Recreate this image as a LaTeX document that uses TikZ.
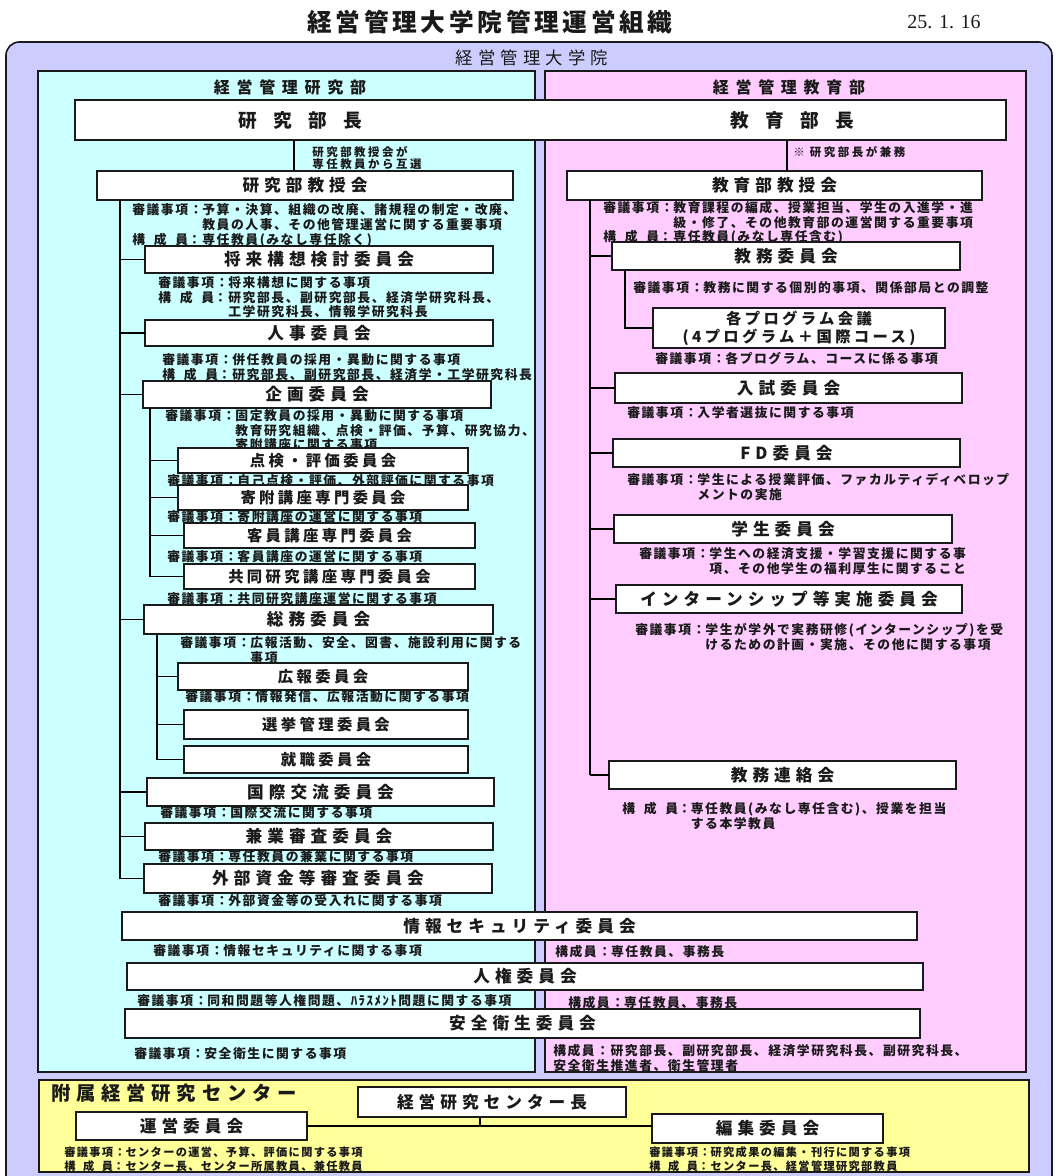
\documentclass[tikz,border=0pt]{standalone}
\usepackage{fontspec}
\setmainfont{Noto Sans CJK JP}
\newfontfamily\datefamily{Liberation Serif}
\definecolor{lav}{HTML}{CCCCFF}
\definecolor{cyanbg}{HTML}{CCFFFF}
\definecolor{pinkbg}{HTML}{FFCCFF}
\definecolor{yelbg}{HTML}{FFFF99}
\definecolor{ink}{HTML}{1A1A1A}

\newcommand\titlefont{\bfseries\fontsize{18.5pt}{21pt}\selectfont\addfontfeature{LetterSpace=15}}
\newcommand\gradfont{\fontsize{13pt}{15pt}\selectfont\addfontfeature{LetterSpace=30}}
\newcommand\headfont{\bfseries\fontsize{12pt}{14pt}\selectfont\addfontfeature{LetterSpace=42}}
\newcommand\bigfont{\bfseries\fontsize{14pt}{16pt}\selectfont\addfontfeature{LetterSpace=88}}
\newcommand\bxfont{\bfseries\fontsize{12.5pt}{14pt}\selectfont\addfontfeature{LetterSpace=30}}
\newcommand\sbxfont{\bfseries\fontsize{11.5pt}{13.5pt}\selectfont\addfontfeature{LetterSpace=22}}
\newcommand\descfont{\bfseries\fontsize{9.6pt}{9pt}\selectfont\addfontfeature{LetterSpace=12}}
\newcommand\notefont{\bfseries\fontsize{8.6pt}{9pt}\selectfont\addfontfeature{LetterSpace=22}}
\newcommand\ydescfont{\bfseries\fontsize{8.4pt}{9.75pt}\selectfont\addfontfeature{LetterSpace=12}}
\newcommand\centfont{\bfseries\fontsize{14.5pt}{17pt}\selectfont\addfontfeature{LetterSpace=30}}

\newlength\shw
\newcommand\kosei{\settowidth\shw{審議事項}\makebox[\shw][s]{構\hfill 成\hfill 員}}
% box node: style, name, x1, y1, x2, y2, text
\newcommand\bxn[7]{\node[#1, minimum width={(#5-#3)*0.75pt}, minimum height={(#6-#4)*0.75pt}] (#2) at ({(#3+#5)/2},{(#4+#6)/2}) {#7};}
% description: style, name, x, y(center of first line), rows
\newcommand\dsc[5]{\node[#1] (#2) at (#3,{#4+4.6}) {\begin{tabular}[t]{@{}l@{}l@{}}#5\end{tabular}};}

\begin{document}
\begin{tikzpicture}[x=0.75pt,y=-0.75pt,
  bx/.style={draw=ink, line width=1pt, fill=white, inner sep=0pt, outer sep=0pt, font=\bxfont, text=ink},
  sbx/.style={bx, font=\sbxfont},
  desc/.style={inner sep=0pt, anchor=base west, font=\descfont, text=ink},
  ydesc/.style={desc, font=\ydescfont},
  conn/.style={draw=black, line width=1.1pt},
  panel/.style={draw=ink, line width=1pt}]
\useasboundingbox (0,0) rectangle (1055,1176);
\begin{scope}
  \clip (0,0) rectangle (1055,1176);
  \draw[fill=lav, draw=ink, line width=1.2pt, rounded corners=10pt] (6,42) rectangle (1052,1200);
\end{scope}
\node[font=\titlefont, text=ink] (title) at (490,22) {経営管理大学院管理運営組織};
\node[font=\datefamily\fontsize{15pt}{17pt}\selectfont, text=ink] (date) at (944,22) {25. 1. 16};
\node[font=\gradfont, text=ink] (grad) at (532,58) {経営管理大学院};

\draw[panel, fill=cyanbg] (38,71) rectangle (535,1072);
\draw[panel, fill=pinkbg] (545,71) rectangle (1026,1072);
\draw[panel, fill=yelbg] (39,1080) rectangle (1029,1172);

\node[font=\headfont, text=ink] (hk) at (290,87) {経営管理研究部};
\node[font=\headfont, text=ink] (he) at (789,87) {経営管理教育部};

\bxn{bx}{bucho}{75}{100}{1006}{140}{}
\node[font=\bigfont, text=ink] (kbucho) at (300,120) {研究部長};
\node[font=\bigfont, text=ink] (ebucho) at (792,120) {教育部長};

% ---------- left column ----------
\node[font=\notefont, text=ink, align=left, anchor=north west, inner sep=0pt] (knote) at (312,146) {研究部教授会が\\専任教員から互選};
\bxn{bx}{kkj}{97}{171}{513}{200}{研究部教授会}
\dsc{desc}{dkkj}{132}{210}{審議事項：&予算・決算、組織の改廃、諸規程の制定・改廃、\\&教員の人事、その他管理運営に関する重要事項\\\kosei：&専任教員(みなし専任除く)}
\bxn{bx}{shorai}{145}{246}{493}{273}{将来構想検討委員会}
\dsc{desc}{dshorai}{158}{283}{審議事項：&将来構想に関する事項\\\kosei：&研究部長、副研究部長、経済学研究科長、\\&工学研究科長、情報学研究科長}
\bxn{bx}{jinji}{145}{320}{493}{346}{人事委員会}
\dsc{desc}{djinji}{162}{360}{審議事項：&併任教員の採用・異動に関する事項\\\kosei：&研究部長、副研究部長、経済学・工学研究科長}
\bxn{bx}{kikaku}{143}{381}{491}{408}{企画委員会}
\dsc{desc}{dkikaku}{165}{416}{審議事項：&固定教員の採用・異動に関する事項\\&教育研究組織、点検・評価、予算、研究協力、\\&寄附講座に関する事項}
\bxn{sbx}{tenken}{178}{448}{468}{473}{点検・評価委員会}
\dsc{desc}{dtenken}{167}{481}{審議事項：&自己点検・評価、外部評価に関する事項}
\bxn{sbx}{kifu}{178}{485}{468}{510}{寄附講座専門委員会}
\dsc{desc}{dkifu}{167}{517}{審議事項：&寄附講座の運営に関する事項}
\bxn{sbx}{kyakuin}{184}{523}{475}{548}{客員講座専門委員会}
\dsc{desc}{dkyakuin}{167}{557}{審議事項：&客員講座の運営に関する事項}
\bxn{sbx}{kyodo}{184}{564}{475}{589}{共同研究講座専門委員会}
\dsc{desc}{dkyodo}{167}{599}{審議事項：&共同研究講座運営に関する事項}
\bxn{bx}{somu}{144}{605}{493}{634}{総務委員会}
\dsc{desc}{dsomu}{180}{643}{審議事項：&広報活動、安全、図書、施設利用に関する\\&事項}
\bxn{sbx}{koho}{178}{663}{468}{690}{広報委員会}
\dsc{desc}{dkoho}{185}{697}{審議事項：&情報発信、広報活動に関する事項}
\bxn{sbx}{senkyo}{184}{710}{468}{739}{選挙管理委員会}
\bxn{sbx}{shushoku}{184}{746}{468}{773}{就職委員会}
\bxn{bx}{kokusai}{147}{778}{494}{806}{国際交流委員会}
\dsc{desc}{dkokusai}{160}{813}{審議事項：&国際交流に関する事項}
\bxn{bx}{kengyo}{145}{823}{493}{850}{兼業審査委員会}
\dsc{desc}{dkengyo}{158}{857}{審議事項：&専任教員の兼業に関する事項}
\bxn{bx}{gaibu}{144}{864}{492}{893}{外部資金等審査委員会}
\dsc{desc}{dgaibu}{158}{901}{審議事項：&外部資金等の受入れに関する事項}

% ---------- right column ----------
\node[font=\notefont, text=ink, anchor=west, inner sep=0pt] (enote) at (793,152) {※ 研究部長が兼務};
\bxn{bx}{kyj}{567}{171}{982}{200}{教育部教授会}
\dsc{desc}{dkyj}{603}{208}{審議事項：&教育課程の編成、授業担当、学生の入進学・進\\&級・修了、その他教育部の運営関する重要事項\\\kosei：&専任教員(みなし専任含む)}
\bxn{bx}{kyomu}{612}{242}{960}{270}{教務委員会}
\dsc{desc}{dkyomu}{633}{288}{審議事項：&教務に関する個別的事項、関係部局との調整}
\bxn{sbx, align=center}{prog}{653}{308}{945}{348}{各プログラム会議\\(4プログラム＋国際コース)}
\dsc{desc}{dprog}{655}{359}{審議事項：&各プログラム、コースに係る事項}
\bxn{bx}{nyushi}{615}{373}{962}{403}{入試委員会}
\dsc{desc}{dnyushi}{627}{413}{審議事項：&入学者選抜に関する事項}
\bxn{bx}{fd}{613}{439}{960}{467}{FD委員会}
\dsc{desc}{dfd}{627}{480}{審議事項：&学生による授業評価、ファカルティディベロップ\\&メントの実施}
\bxn{bx, line width=2.2pt}{gakusei}{614}{515}{952}{543}{学生委員会}
\dsc{desc}{dgakusei}{639}{554}{審議事項：&学生への経済支援・学習支援に関する事\\&項、その他学生の福利厚生に関すること}
\bxn{bx}{intern}{616}{585}{962}{613}{インターンシップ等実施委員会}
\dsc{desc}{dintern}{635}{630}{審議事項：&学生が学外で実務研修(インターンシップ)を受\\&けるための計画・実施、その他に関する事項}
\bxn{bx}{renraku}{609}{761}{956}{789}{教務連絡会}
\dsc{desc}{drenraku}{622}{809}{\kosei：&専任教員(みなし専任含む)、授業を担当\\&する本学教員}

% ---------- common committees ----------
\bxn{bx}{joho}{122}{912}{917}{940}{情報セキュリティ委員会}
\dsc{desc}{djoho}{153}{951}{審議事項：&情報セキュリティに関する事項}
\dsc{desc}{djoho2}{555}{952}{構成員：&専任教員、事務長}
\bxn{bx}{jinken}{127}{963}{923}{990}{人権委員会}
\dsc{desc}{djinken}{137}{1001}{審議事項：&同和問題等人権問題、ﾊﾗｽﾒﾝﾄ問題に関する事項}
\dsc{desc}{djinken2}{568}{1003}{構成員：&専任教員、事務長}
\bxn{bx}{anzen}{125}{1009}{920}{1038}{安全衛生委員会}
\dsc{desc}{danzen}{134}{1054}{審議事項：&安全衛生に関する事項}
\dsc{desc}{danzen2}{553}{1051}{構成員：研究部長、副研究部長、経済学研究科長、副研究科長、\\安全衛生推進者、衛生管理者}

% ---------- research center ----------
\node[font=\centfont, text=ink, anchor=west, inner sep=0pt] (center) at (51,1093) {附属経営研究センター};
\bxn{bx}{cchief}{358}{1087}{626}{1117}{経営研究センター長}
\bxn{bx}{unei}{76}{1112}{307}{1140}{運営委員会}
\bxn{bx}{henshu}{652}{1114}{883}{1143}{編集委員会}
\dsc{ydesc}{dunei}{64}{1152}{審議事項：&センターの運営、予算、評価に関する事項\\\kosei：&センター長、センター所属教員、兼任教員}
\dsc{ydesc}{dhenshu}{649}{1152}{審議事項：&研究成果の編集・刊行に関する事項\\\kosei：&センター長、経営管理研究部教員}

% ---------- connectors ----------
\coordinate (A1) at (294,0);
\coordinate (A2) at (787,0);
\draw[conn] (bucho.south -| A1) -- (kkj.north -| A1);
\draw[conn] (bucho.south -| A2) -- (kyj.north -| A2);

\coordinate (LT) at (120,0);
\draw[conn] (kkj.south -| LT) -- (gaibu.west -| LT);
\foreach \n in {shorai,jinji,kikaku,somu,kokusai,kengyo,gaibu}
  \draw[conn] (\n.west -| LT) -- (\n.west);
\coordinate (KT) at (150,0);
\draw[conn] (kikaku.south -| KT) -- (kyodo.west -| KT);
\foreach \n in {tenken,kifu,kyakuin,kyodo}
  \draw[conn] (\n.west -| KT) -- (\n.west);
\coordinate (ST) at (157,0);
\draw[conn] (somu.south -| ST) -- (shushoku.west -| ST);
\foreach \n in {koho,senkyo,shushoku}
  \draw[conn] (\n.west -| ST) -- (\n.west);

\coordinate (RT) at (590,0);
\draw[conn] (kyj.south -| RT) -- (renraku.west -| RT);
\foreach \n in {kyomu,nyushi,fd,gakusei,intern,renraku}
  \draw[conn] (\n.west -| RT) -- (\n.west);
\coordinate (PT) at (625,0);
\draw[conn] (kyomu.south -| PT) |- (prog.west);

\coordinate (C1) at (480,0);
\draw[conn] (unei.east) -- (unei.east -| henshu.west);
\draw[conn] (cchief.south -| C1) -- (unei.east -| C1);
\end{tikzpicture}
\end{document}
